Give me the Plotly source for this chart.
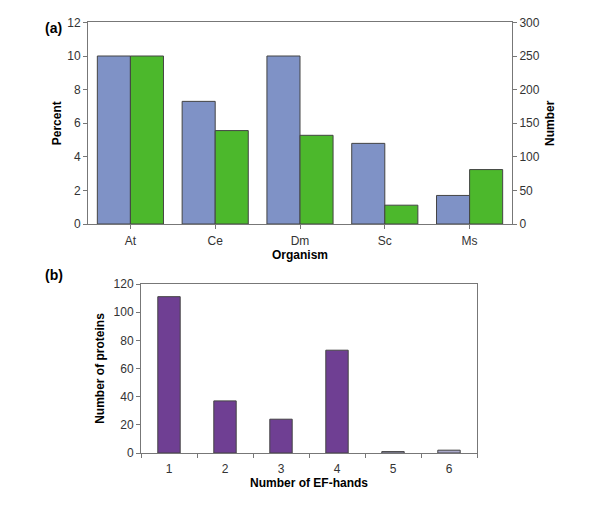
import plotly.graph_objects as go

# panel (a): EF-hand proteins per organism
organisms = ["At", "Ce", "Dm", "Sc", "Ms"]
percent = [10.0, 7.3, 10.0, 4.8, 1.7]
number = [250, 139, 132, 28, 81]

# panel (b): distribution of EF-hand count
ef_hands = ["1", "2", "3", "4", "5", "6"]
proteins = [111, 37, 24, 73, 1, 2]

blue = "#7f92c6"
green = "#4cb82c"
purple = "#6f3f93"
pale = "#a9a8c9"
edge = "#444444"
axis_col = "#777777"
font = "Liberation Sans, Arial, sans-serif"

# the page body adds an 8px margin, so the figure is 8px smaller and everything is shifted
PAD = 8
W, H = 600 - PAD, 510 - PAD


def px_x(x):
    return (x - PAD) / W


def px_y(y):
    return 1 - (y - PAD) / H


fig = go.Figure()

# Percent on the left axis, Number on the right axis, side by side
fig.add_trace(go.Bar(x=organisms, y=percent, width=0.39, offset=-0.39,
                     marker=dict(color=blue, line=dict(color=edge, width=1)),
                     xaxis="x", yaxis="y"))
fig.add_trace(go.Bar(x=organisms, y=number, width=0.39, offset=0,
                     marker=dict(color=green, line=dict(color=edge, width=1)),
                     xaxis="x", yaxis="y2"))

bar_cols = [purple if v > 5 else pale for v in proteins]
fig.add_trace(go.Bar(x=ef_hands, y=proteins, width=0.4,
                     marker=dict(color=bar_cols, line=dict(color=edge, width=1)),
                     xaxis="x3", yaxis="y3"))

tick_font = dict(family=font, size=12, color="#333333")
title_font = dict(family=font, size=12, color="#000000", weight="bold")
common = dict(showgrid=False, zeroline=False, showline=True, linecolor=axis_col,
              linewidth=1, ticks="outside", ticklen=4, tickcolor=axis_col,
              tickfont=tick_font, automargin=False)

fig.update_layout(
    width=W, height=H,
    margin=dict(l=0, r=0, t=0, b=0),
    paper_bgcolor="white", plot_bgcolor="white",
    showlegend=False,
    xaxis=dict(domain=[px_x(88), px_x(512)], anchor="y", range=[-0.5, 4.5], mirror=True,
               ticklabelstandoff=2,
               title=dict(text="Organism", font=title_font, standoff=1), **common),
    yaxis=dict(domain=[px_y(224), px_y(22.4)], anchor="x", range=[0, 12], dtick=2,
               title=dict(text="Percent", font=title_font, standoff=3), **common),
    yaxis2=dict(overlaying="y", side="right", anchor="x", range=[0, 300], dtick=50,
                title=dict(text="Number", font=title_font, standoff=6), **common),
    xaxis3=dict(domain=[px_x(141), px_x(477)], anchor="y3", range=[-0.5, 5.5], mirror=True,
                tickson="boundaries", ticklabelstandoff=5,
                title=dict(text="Number of EF-hands", font=title_font, standoff=1), **common),
    yaxis3=dict(domain=[px_y(453), px_y(284)], anchor="x3", range=[0, 120], dtick=20, mirror=True,
                title=dict(text="Number of proteins", font=title_font, standoff=6), **common),
    annotations=[
        dict(text="(a)", x=px_x(43), y=px_y(18), xref="paper", yref="paper", showarrow=False,
             font=dict(family=font, size=14, color="#000000", weight="bold")),
        dict(text="(b)", x=px_x(43), y=px_y(275), xref="paper", yref="paper", showarrow=False,
             font=dict(family=font, size=14, color="#000000", weight="bold")),
    ],
)

fig.write_html("out.html")
